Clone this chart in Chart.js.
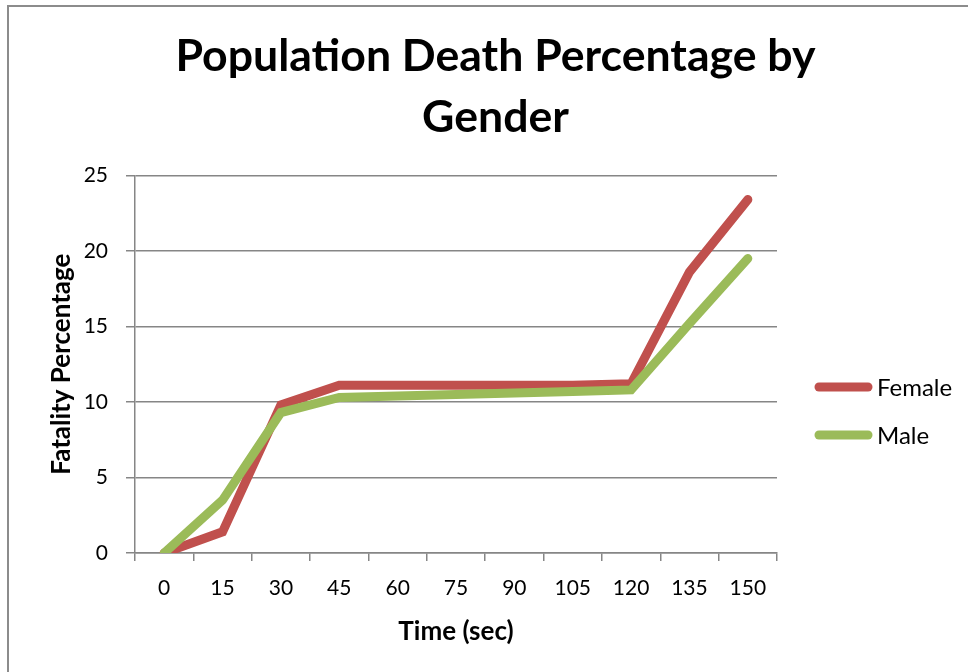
<!DOCTYPE html>
<html>
<head>
<meta charset="utf-8">
<script src="https://cdn.jsdelivr.net/npm/chart.js@4"></script>
<style>
  html, body { margin: 0; padding: 0; background: #fff; }
  #wrap { position: relative; width: 976px; height: 672px; overflow: hidden; }
  #frame { position: absolute; left: 7px; top: 5px; width: 959px; height: 700px;
           border-left: 2px solid #8c8c8c; border-top: 2px solid #8c8c8c; }
  #chart { position: absolute; left: 0; top: 0; }
</style>
</head>
<body>
<div id="wrap">
  <div id="frame"></div>
  <canvas id="chart" width="976" height="672"></canvas>
</div>
<script>
const times = ['0', '15', '30', '45', '60', '75', '90', '105', '120', '135', '150'];
const female = [0, 1.4, 9.8, 11.1, 11.1, 11.1, 11.1, 11.1, 11.2, 18.6, 23.4];
const male = [0, 3.5, 9.3, 10.3, 10.4, 10.5, 10.6, 10.7, 10.8, 15.2, 19.5];

const FONT = 'Lato, "Open Sans", sans-serif';
const GRID = '#868686';

Chart.defaults.font.family = FONT;
Chart.defaults.color = '#000';

// legend drawn to the right of the plot, Excel style (line sample + label)
const sideLegend = {
  id: 'sideLegend',
  afterDraw(chart) {
    const ctx = chart.ctx;
    ctx.save();
    ctx.font = '24px ' + FONT;
    ctx.textBaseline = 'middle';
    ctx.lineCap = 'round';
    chart.data.datasets.forEach((ds, n) => {
      const y = 387 + n * 48;
      ctx.strokeStyle = ds.borderColor;
      ctx.lineWidth = 9;
      ctx.beginPath();
      ctx.moveTo(819, y);
      ctx.lineTo(868, y);
      ctx.stroke();
      ctx.fillStyle = '#000';
      ctx.fillText(ds.label, 877, y + 1);
    });
    ctx.restore();
  },
};

new Chart(document.getElementById('chart'), {
  type: 'line',
  data: {
    labels: times,
    datasets: [
      {
        label: 'Female',
        data: female,
        borderColor: '#C0504D',
        backgroundColor: '#C0504D',
        borderWidth: 9,
        borderCapStyle: 'round',
        borderJoinStyle: 'miter',
        pointRadius: 0,
        tension: 0,
        order: 1,
      },
      {
        label: 'Male',
        data: male,
        borderColor: '#9BBB59',
        backgroundColor: '#9BBB59',
        borderWidth: 9,
        borderCapStyle: 'round',
        borderJoinStyle: 'miter',
        pointRadius: 0,
        tension: 0,
        order: 0,
      },
    ],
  },
  plugins: [sideLegend],
  options: {
    responsive: false,
    animation: false,
    layout: { padding: { left: 46, right: 31, top: 27, bottom: 21 } },
    plugins: {
      title: {
        display: true,
        text: ['Population Death Percentage by', 'Gender'],
        font: { size: 44.6, weight: 'bold', lineHeight: 1.35 },
        color: '#000',
        padding: { top: 0, bottom: 28 },
      },
      legend: { display: false },
      tooltip: { enabled: false },
    },
    scales: {
      x: {
        type: 'category',
        offset: true,
        grid: { display: true, drawOnChartArea: false, offset: true, color: GRID, tickLength: 8, lineWidth: 1.5 },
        border: { color: GRID, width: 1.5 },
        ticks: { font: { size: 21 }, color: '#000', padding: 15, maxRotation: 0 },
        title: { display: true, text: 'Time (sec)', font: { size: 26, weight: 'bold' }, padding: { top: 15, bottom: 4 } },
        afterFit(scale) { scale.height = 98; },
      },
      y: {
        min: 0,
        max: 25,
        ticks: { stepSize: 5, font: { size: 21 }, color: '#000', padding: 18 },
        grid: { color: GRID, tickLength: 9, lineWidth: 1.5 },
        border: { color: GRID, width: 1.5 },
        title: { display: true, text: 'Fatality Percentage', font: { size: 26, weight: 'bold' }, padding: { top: 0, bottom: 7 } },
        afterFit(scale) { scale.width = 89; },
      },
      // empty right-hand axis: keeps room for the legend
      legendSpace: {
        type: 'linear',
        position: 'right',
        display: true,
        grid: { display: false },
        border: { display: false },
        ticks: { display: false },
        afterFit(scale) { scale.width = 168; },
      },
    },
  },
});
</script>
</body>
</html>
